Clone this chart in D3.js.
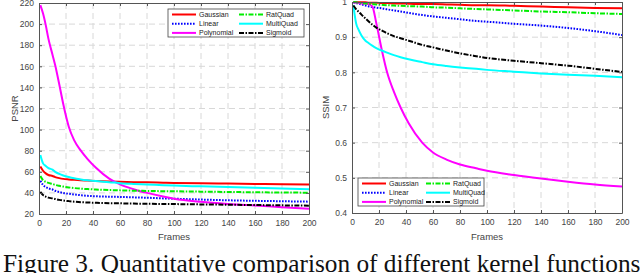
<!DOCTYPE html>
<html>
<head>
<meta charset="utf-8">
<script src="https://cdn.jsdelivr.net/npm/d3@7"></script>
<style>
  html, body { margin: 0; padding: 0; background: #fff; }
  svg { display: block; }
  text { font-family: "Liberation Sans", Arial, sans-serif; }
</style>
</head>
<body>
<div id="chart"></div>
<script>
var frames = [1, 3, 5, 7, 10, 12, 15, 18, 22, 26, 31, 36, 42, 52, 60, 70, 80, 92, 100, 120, 140, 160, 180, 200];

var kernels = ['Gaussian', 'Linear', 'Polynomial', 'RatQuad', 'MultiQuad', 'Sigmoid'];

// PSNR per kernel
var psnrGaussian   = [65, 61, 58.5, 57, 56, 55, 54, 53.3, 52.8, 52.4, 52, 51.7, 51.3, 50.8, 50.5, 50.2, 50, 49.7, 49.5, 49.1, 48.8, 48.5, 48.2, 48];
var psnrLinear     = [51.5, 47.5, 45.5, 44.3, 43.2, 42, 40.8, 40, 39.2, 38.5, 37.8, 37.2, 36.8, 36.4, 36.2, 35.8, 35.4, 34.8, 34.5, 33.7, 33, 32.5, 32.1, 31.7];
var psnrPolynomial = [218, 210, 199, 186, 171, 161, 143, 124, 103, 90, 80, 72, 64, 53.5, 48, 43.5, 40, 36.5, 34.5, 31.5, 29.5, 28, 26.5, 25];
var psnrRatQuad    = [56, 52, 50.5, 49.5, 48.5, 47.6, 46.7, 46, 45.2, 44.6, 44, 43.6, 43.2, 42.7, 42.4, 42.1, 41.9, 41.6, 41.5, 41.2, 40.9, 40.6, 40.4, 40.2];
var psnrMultiQuad  = [76, 68, 65.5, 63.5, 62, 60, 58, 56.5, 55, 53.8, 52.8, 52, 51.2, 50.2, 49.2, 48.5, 48, 47.3, 46.9, 46.2, 45.5, 44.8, 44.1, 43.4];
var psnrSigmoid    = [41, 38, 36.5, 35.5, 34.8, 34.2, 33.4, 32.8, 32.2, 31.7, 31.2, 30.9, 30.6, 30.2, 30.1, 29.9, 29.7, 29.5, 29.4, 29.1, 28.8, 28.5, 28.2, 27.9];

// SSIM per kernel
var ssimGaussian   = [1, 1, 0.999, 0.999, 0.999, 0.998, 0.998, 0.998, 0.997, 0.997, 0.996, 0.996, 0.995, 0.994, 0.994, 0.993, 0.992, 0.991, 0.991, 0.989, 0.987, 0.985, 0.983, 0.982];
var ssimLinear     = [0.999, 0.997, 0.995, 0.993, 0.99, 0.988, 0.986, 0.984, 0.982, 0.979, 0.976, 0.973, 0.969, 0.963, 0.959, 0.955, 0.951, 0.946, 0.944, 0.938, 0.933, 0.926, 0.917, 0.906];
var ssimPolynomial = [0.999, 0.998, 0.997, 0.996, 0.995, 0.994, 0.988, 0.94, 0.865, 0.8, 0.745, 0.7, 0.655, 0.6, 0.572, 0.552, 0.538, 0.527, 0.52, 0.508, 0.498, 0.489, 0.481, 0.475];
var ssimRatQuad    = [1, 0.999, 0.998, 0.997, 0.996, 0.995, 0.994, 0.993, 0.992, 0.991, 0.99, 0.989, 0.988, 0.987, 0.985, 0.984, 0.982, 0.98, 0.979, 0.976, 0.973, 0.971, 0.968, 0.966];
var ssimMultiQuad  = [0.991, 0.94, 0.92, 0.905, 0.89, 0.884, 0.876, 0.869, 0.862, 0.856, 0.849, 0.843, 0.837, 0.829, 0.823, 0.818, 0.814, 0.81, 0.807, 0.802, 0.797, 0.793, 0.79, 0.786];
var ssimSigmoid    = [0.99, 0.98, 0.972, 0.964, 0.953, 0.946, 0.936, 0.927, 0.919, 0.911, 0.903, 0.897, 0.89, 0.878, 0.871, 0.862, 0.854, 0.846, 0.841, 0.833, 0.826, 0.819, 0.81, 0.801];

var xTicks = [0, 20, 40, 60, 80, 100, 120, 140, 160, 180, 200];
var psnrTicks = [20, 40, 60, 80, 100, 120, 140, 160, 180, 200, 220];
var ssimTicks = [0.4, 0.5, 0.6, 0.7, 0.8, 0.9, 1];

var caption = 'Figure 3. Quantitative comparison of different kernel functions';

(function() {

  var styles = {
    Gaussian:   { color: '#ff0000', dash: null },
    Linear:     { color: '#0000ff', dash: '1.6,1.4' },
    Polynomial: { color: '#ff00ff', dash: null },
    RatQuad:    { color: '#00ee00', dash: '5,1.5,1.5,1.5' },
    MultiQuad:  { color: '#00ffff', dash: null },
    Sigmoid:    { color: '#000000', dash: '5,1.5,1.5,1.5' }
  };

  var svg = d3.select('#chart')
    .append('svg')
    .attr('width', 640)
    .attr('height', 273);

  var draw = function(opt) {
    var x = d3.scaleLinear().domain([0, 200]).range([opt.left, opt.right]),
        y = d3.scaleLinear().domain(opt.domain).range([opt.bottom, opt.top]);

    var g = svg.append('g');

    // dashed grid
    g.selectAll('.vgrid').data(xTicks.slice(1, -1)).enter()
      .append('line')
      .attr('x1', x).attr('x2', x)
      .attr('y1', opt.top).attr('y2', opt.bottom)
      .attr('stroke', '#d8d8d8')
      .attr('stroke-dasharray', '6,4');

    g.selectAll('.hgrid').data(opt.ticks.slice(1, -1)).enter()
      .append('line')
      .attr('y1', y).attr('y2', y)
      .attr('x1', opt.left).attr('x2', opt.right)
      .attr('stroke', '#d8d8d8')
      .attr('stroke-dasharray', '6,4');

    // curves
    var line = d3.line()
      .x(function(d) { return x(d[0]); })
      .y(function(d) { return y(d[1]); })
      .curve(d3.curveMonotoneX);

    kernels.forEach(function(k) {
      var pts = frames.map(function(f, i) { return [f, opt.series[k][i]]; });
      g.append('path')
        .datum(pts)
        .attr('d', line)
        .attr('fill', 'none')
        .attr('stroke', styles[k].color)
        .attr('stroke-width', 2)
        .attr('stroke-dasharray', styles[k].dash);
    });

    // axes, ticks pointing inward, box on
    var bottom = g.append('g')
      .attr('transform', 'translate(0,' + opt.bottom + ')')
      .call(d3.axisBottom(x).tickValues(xTicks).tickSizeInner(-3).tickSizeOuter(0).tickPadding(6));
    var left = g.append('g')
      .attr('transform', 'translate(' + opt.left + ',0)')
      .call(d3.axisLeft(y).tickValues(opt.ticks).tickFormat(opt.fmt).tickSizeInner(-3).tickSizeOuter(0).tickPadding(5));
    var top = g.append('g')
      .attr('transform', 'translate(0,' + opt.top + ')')
      .call(d3.axisTop(x).tickValues(xTicks).tickSizeInner(-3).tickSizeOuter(0).tickFormat(''));
    var right = g.append('g')
      .attr('transform', 'translate(' + opt.right + ',0)')
      .call(d3.axisRight(y).tickValues(opt.ticks).tickSizeInner(-3).tickSizeOuter(0).tickFormat(''));

    [bottom, left, top, right].forEach(function(a) {
      a.selectAll('path, line').attr('stroke', '#555');
      a.selectAll('text').attr('fill', '#444').style('font-size', '8.5px');
    });

    g.append('text')
      .attr('x', (opt.left + opt.right) / 2)
      .attr('y', 240)
      .attr('text-anchor', 'middle')
      .style('font-size', '9.5px')
      .style('fill', '#444')
      .text('Frames');

    g.append('text')
      .attr('transform', 'translate(' + opt.labelX + ',' + (opt.top + opt.bottom) / 2 + ') rotate(-90)')
      .attr('text-anchor', 'middle')
      .style('font-size', '9.5px')
      .style('fill', '#444')
      .text(opt.label);

    legend(opt.legend);
  };

  // 3 x 2 legend box
  function legend(p) {
    var lg = svg.append('g').attr('transform', 'translate(' + p.x + ',' + p.y + ')');
    lg.append('rect')
      .attr('width', p.w).attr('height', 28)
      .attr('fill', '#fff')
      .attr('stroke', '#444')
      .attr('stroke-width', 0.8);
    kernels.forEach(function(k, i) {
      var col = i < 3 ? 0 : 1,
          row = i % 3,
          ox = 4 + col * p.col,
          oy = 5.5 + row * 9.2;
      lg.append('line')
        .attr('x1', ox).attr('x2', ox + 24)
        .attr('y1', oy).attr('y2', oy)
        .attr('stroke', styles[k].color)
        .attr('stroke-width', 2)
        .attr('stroke-dasharray', styles[k].dash);
      lg.append('text')
        .attr('x', ox + 27)
        .attr('y', oy + 2.5)
        .style('font-size', '7px')
        .style('fill', '#222')
        .text(k);
    });
  }

  function pick(prefix) {
    var all = {
      psnr: [psnrGaussian, psnrLinear, psnrPolynomial, psnrRatQuad, psnrMultiQuad, psnrSigmoid],
      ssim: [ssimGaussian, ssimLinear, ssimPolynomial, ssimRatQuad, ssimMultiQuad, ssimSigmoid]
    }[prefix];
    var o = {};
    kernels.forEach(function(k, i) { o[k] = all[i]; });
    return o;
  }

  // legend order in the figure: column 1 Gaussian/Linear/Polynomial, column 2 RatQuad/MultiQuad/Sigmoid
  draw({
    left: 39, right: 309, top: 3, bottom: 214,
    domain: [20, 220], ticks: psnrTicks, fmt: d3.format('d'),
    series: pick('psnr'), label: 'PSNR', labelX: 18,
    legend: { x: 168, y: 9, w: 136, col: 67 }
  });

  draw({
    left: 352, right: 622, top: 2, bottom: 213,
    domain: [0.4, 1], ticks: ssimTicks, fmt: function(d) { return d === 1 ? '1' : d3.format('.1f')(d); },
    series: pick('ssim'), label: 'SSIM', labelX: 329,
    legend: { x: 358, y: 178, w: 126, col: 64 }
  });

  svg.append('text')
    .attr('x', 3)
    .attr('y', 271.5)
    .style('font-family', '"Liberation Serif", "Times New Roman", serif')
    .style('font-size', '25.3px')
    .style('fill', '#111')
    .text(caption);

})();
</script>
</body>
</html>
